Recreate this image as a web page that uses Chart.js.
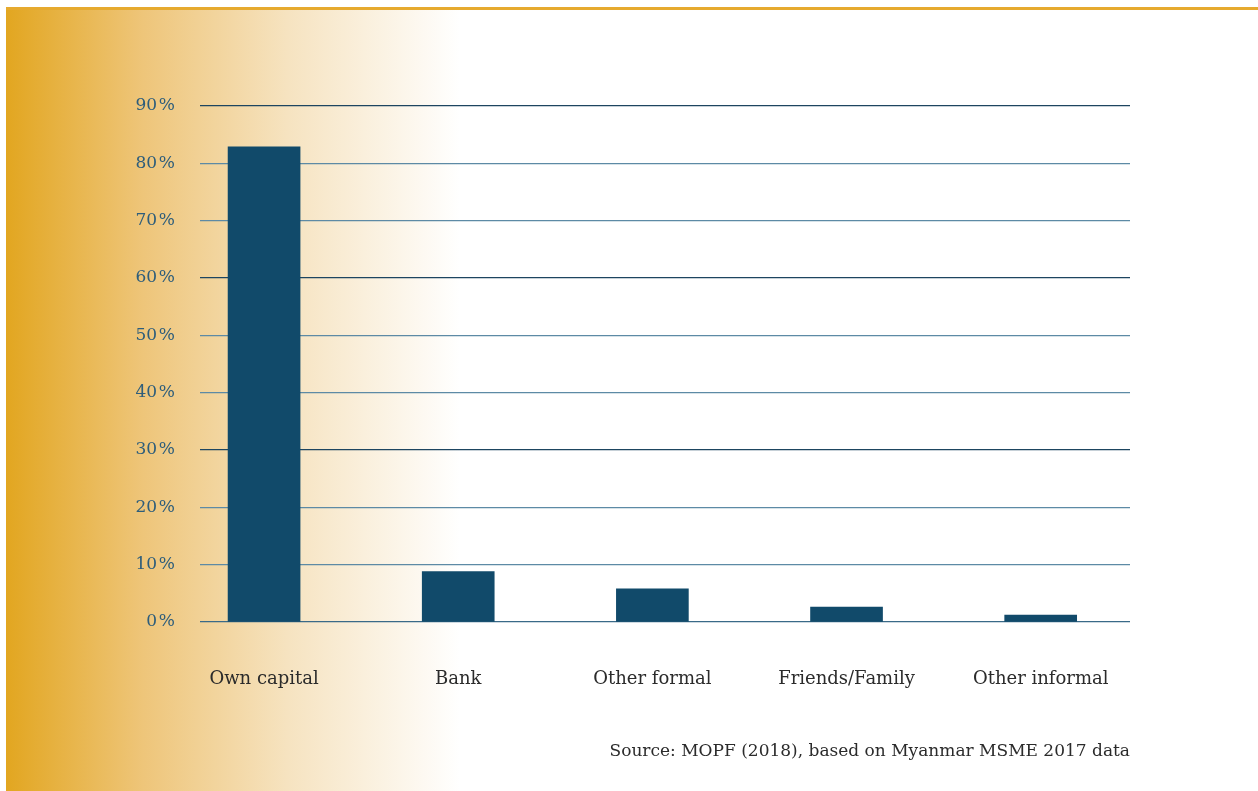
<!DOCTYPE html>
<html>
<head>
<meta charset="utf-8">
<script src="https://cdn.jsdelivr.net/npm/chart.js@4"></script>
<style>
  html, body { margin: 0; padding: 0; background: #fff; }
  #wrap { width: 1258px; height: 791px; }
</style>
</head>
<body>
<div id="wrap"><canvas id="funding--canva"></canvas></div>
<script>
const categories = ["Own capital", "Bank", "Other formal", "Friends/Family", "Other informal"];
const shares = [82.9, 8.8, 5.8, 2.6, 1.2];
const yTicks = [0, 10, 20, 30, 40, 50, 60, 70, 80, 90];
const sourceNote = "Source: MOPF (2018), based on Myanmar MSME 2017 data";

const serif = "'DejaVu Serif', 'Liberation Serif', serif";

// golden panel behind the chart, fading to white, with a rule along the top
const panelBackground = {
  id: "panelBackground",
  beforeDraw: (chart) => {
    const ctx = chart.ctx;
    const w = chart.width;
    const h = chart.height;
    ctx.save();
    const grad = ctx.createLinearGradient(6, 0, 460, 0);
    grad.addColorStop(0, "#e2a620");
    grad.addColorStop(0.3, "#eec579");
    grad.addColorStop(0.62, "#f6e3c0");
    grad.addColorStop(1, "#ffffff");
    ctx.fillStyle = grad;
    ctx.fillRect(6, 8, 460, h - 8);
    ctx.fillStyle = "#e6aa2e";
    ctx.fillRect(6, 7, w - 6, 3);
    ctx.restore();
  },
};

const gridColour = (c) => {
  const v = c.tick ? c.tick.value : -1;
  if (v === 0) return "#3a6a88";
  return v % 30 === 0 ? "#1d4560" : "#5d8aa5";
};

const ctx = document.querySelector("#funding--canva").getContext("2d");

new Chart(ctx, {
  type: "bar",
  data: {
    datasets: [
      {
        data: shares.map((v, idx) => ({ x: idx, y: v })),
        backgroundColor: "#114a6a",
        barThickness: 72,
      },
    ],
  },
  options: {
    responsive: true,
    maintainAspectRatio: false,
    animation: false,
    layout: { padding: { left: 100, right: 128, top: 106, bottom: 29 } },
    plugins: {
      legend: { display: false },
      tooltip: { enabled: false },
      title: {
        display: true,
        text: sourceNote,
        position: "bottom",
        align: "end",
        color: "#2b2b2b",
        font: { family: serif, size: 17, weight: "normal" },
        padding: { top: 4, bottom: 0 },
      },
    },
    scales: {
      x: {
        type: "linear",
        min: -0.33,
        max: 4.46,
        offset: false,
        bounds: "data",
        afterBuildTicks: (scale) => {
          scale.ticks = categories.map((c, i) => ({ value: i }));
        },
        ticks: {
          callback: (value) => categories[value],
          color: "#2b2b2b",
          font: { family: serif, size: 18 },
          padding: 47,
          maxRotation: 0,
          autoSkip: false,
        },
        grid: { display: false, drawTicks: false, offset: false },
        border: { display: false },
      },
      y: {
        min: 0,
        max: 90,
        afterFit: (scale) => {
          scale.width = 100;
        },
        afterBuildTicks: (scale) => {
          scale.ticks = yTicks.map((v) => ({ value: v }));
        },
        ticks: {
          callback: (value) => value + "\u200a%",
          color: "#2d5d7b",
          font: { family: serif, size: 17 },
          padding: 25,
        },
        grid: {
          drawTicks: false,
          lineWidth: 1.2,
          color: gridColour,
        },
        border: { display: false },
      },
    },
  },
  plugins: [panelBackground],
});
</script>
</body>
</html>
